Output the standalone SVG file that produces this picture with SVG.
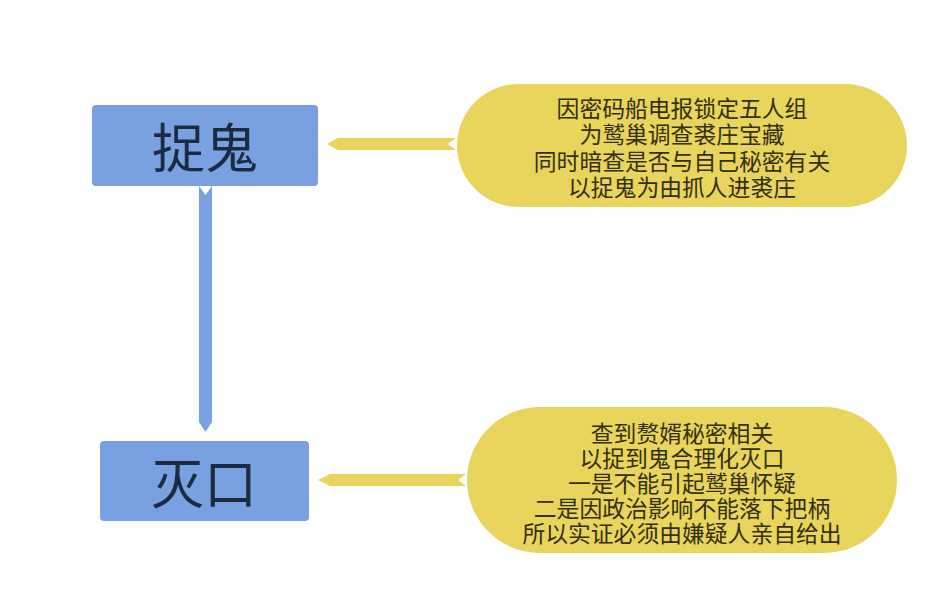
<svg xmlns="http://www.w3.org/2000/svg" width="950" height="602" viewBox="0 0 950 602">
<style>
.box{fill:#79a1e2;}
.pill{fill:#e9d45c;}
.ylink{fill:#e9d45c;}
.blink{fill:#79a1e2;}
.title{font-family:"Noto Sans CJK SC","Noto Sans",sans-serif;font-size:53px;fill:#1d2b40;text-anchor:middle;dominant-baseline:central;}
.note{font-family:"Noto Sans CJK SC","Noto Sans",sans-serif;font-size:22.8px;fill:#33300e;text-anchor:middle;dominant-baseline:central;}
</style>
<rect width="950" height="602" fill="#ffffff"/>
<g id="connectors">
<polygon class="blink" points="199,186 205.5,195 212,186 212,422 205.5,432 199,422"/>
<polygon class="ylink" points="327,144 338,138 456,138 448,144 456,150 338,150"/>
<polygon class="ylink" points="318,480 330,474 466,474 458,480 466,486 330,486"/>
</g>
<g id="node-zhuogui">
<rect class="box" x="92" y="105" width="226" height="81" rx="4"/>
<text class="title" x="205" y="145">捉鬼</text>
</g>
<g id="node-miekou">
<rect class="box" x="100" y="441" width="209" height="80" rx="4"/>
<text class="title" x="204" y="481">灭口</text>
</g>
<g id="note-top">
<rect class="pill" x="457" y="84" width="450" height="123" rx="61.5"/>
<text class="note" x="682" y="107">因密码船电报锁定五人组</text>
<text class="note" x="682" y="133">为鹫巢调查裘庄宝藏</text>
<text class="note" x="682" y="160">同时暗查是否与自己秘密有关</text>
<text class="note" x="682" y="186">以捉鬼为由抓人进裘庄</text>
</g>
<g id="note-bottom">
<rect class="pill" x="467" y="407" width="430" height="146" rx="73"/>
<text class="note" x="682" y="432">查到赘婿秘密相关</text>
<text class="note" x="682" y="457">以捉到鬼合理化灭口</text>
<text class="note" x="682" y="482">一是不能引起鹫巢怀疑</text>
<text class="note" x="682" y="507">二是因政治影响不能落下把柄</text>
<text class="note" x="682" y="532">所以实证必须由嫌疑人亲自给出</text>
</g>
</svg>
